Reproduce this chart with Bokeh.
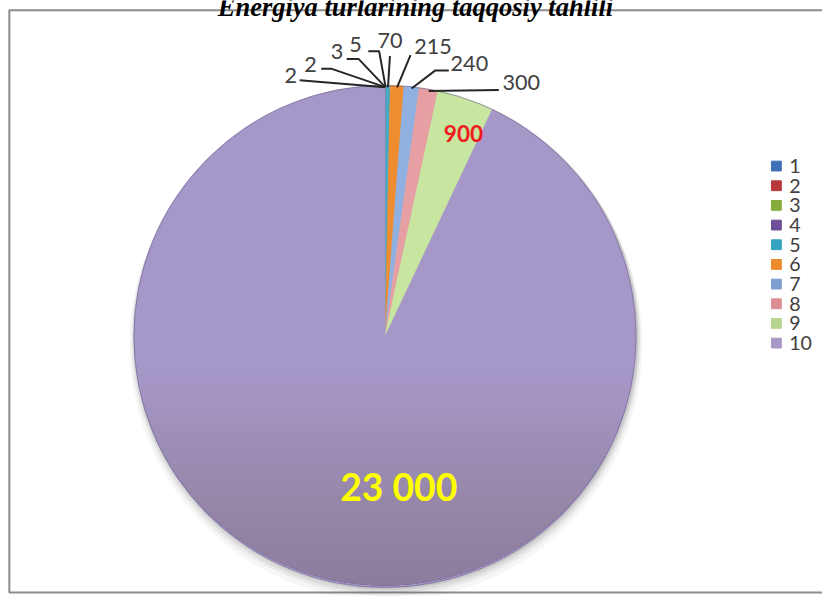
import numpy as np
from bokeh.plotting import figure
from bokeh.models import Range1d, ColumnDataSource
from bokeh.embed import file_html
from bokeh.resources import INLINE
from bokeh.core.properties import value

# ---------------- data ----------------
categories = ["1", "2", "3", "4", "5", "6", "7", "8", "9", "10"]
values = [2, 2, 3, 5, 70, 215, 240, 300, 900, 23000]
value_labels = ["2", "2", "3", "5", "70", "215", "240", "300", "900", "23 000"]
title_text = "Energiya turlarining taqqosiy tahlili"

# ---------------- styles / layout ----------------
colors = ["#4a7ebb", "#be4b48", "#98b954", "#7d60a0", "#46aac5",
          "#f08c30", "#8fb0e0", "#e6a0a4", "#c8e6a0", "#a697c9"]
legend_colors = ["#3f70b5", "#b8393a", "#86ad3c", "#6e4e98", "#35a2bf",
                 "#ec8a2c", "#7f9fd2", "#dc8f92", "#b7d58e", "#a898c6"]

RW, RH = 838, 612                  # design space (reference pixels)
W, H = 822, 596                    # figure size on page
S = W / RW
cx, cy, R = 392, 345, 256          # pie centre / radius in design px


def fy(y):
    return RH - y


def fs(px):
    return f"{px * S:.1f}px"


p = figure(width=W, height=H, x_range=Range1d(0, RW), y_range=Range1d(0, RH),
           output_backend="svg", toolbar_location=None, min_border=0)
p.axis.visible = False
p.grid.visible = False
p.outline_line_color = None
p.background_fill_color = "white"
p.border_fill_color = "white"

# chart frame
p.quad(left=9, right=RW + 5, top=fy(10), bottom=fy(608), fill_color=None,
       line_color="#8c8c8c", line_width=2)

# shadow under the pie
for k, a in [(9, 0.05), (6, 0.07), (4, 0.10), (2, 0.14)]:
    p.circle(x=cx + 1, y=fy(cy + k - 1), radius=R + k * 0.6,
             fill_color="#555555", fill_alpha=a, line_color=None)

# wedges
vals = np.array(values, dtype=float)
total = vals.sum()
cum = np.concatenate([[0], np.cumsum(vals)])
start = np.pi / 2 - cum[:-1] / total * 2 * np.pi
end = np.pi / 2 - cum[1:] / total * 2 * np.pi
src = ColumnDataSource(dict(start=start, end=end, color=colors, cat=categories))
p.wedge(x=cx, y=fy(cy), radius=R, start_angle="start", end_angle="end",
        direction="clock", fill_color="color", line_color="color", line_width=0.5,
        source=src)

# darker lower shading on big slice (simulated gradient)
for frac in np.linspace(0.15, 0.97, 26):
    th = np.linspace(-np.pi / 2 - np.arccos(frac), -np.pi / 2 + np.arccos(frac), 80)
    xs = list(cx + R * np.cos(th))
    ys = list(fy(cy) + R * np.sin(th))
    p.patch(xs, ys, fill_color="#3d2f5a", fill_alpha=0.013, line_color=None)

# thin outline
p.circle(x=cx, y=fy(cy), radius=R, fill_color=None,
         line_color="#6f6290", line_alpha=0.6, line_width=1)

# ---------------- outside labels with leader lines ----------------
mid = np.pi / 2 - (cum[:-1] + vals / 2) / total * 2 * np.pi
outside_idx = [0, 1, 2, 3, 4, 5, 6, 7]
lab_x = [296, 316, 343, 362, 397, 441, 478, 531]
lab_y = [77, 66, 52, 45, 41, 47, 65, 84]
line_x0 = [305, 327, 353, 375, 397, 418, 457, 508]
line_y0 = [82, 70, 60, 52, 57, 56, 72, 92]
elbow = [0, 10, 12, 11, 0, 0, -14, 0]

xs_l, ys_l = [], []
for j, i in enumerate(outside_idx):
    ex = cx + R * np.cos(mid[i])
    ey = fy(cy) + R * np.sin(mid[i])
    pts_x = [line_x0[j]]
    pts_y = [fy(line_y0[j])]
    if elbow[j] != 0:
        pts_x.append(line_x0[j] + elbow[j])
        pts_y.append(fy(line_y0[j]))
    pts_x.append(ex)
    pts_y.append(ey)
    xs_l.append(pts_x)
    ys_l.append(pts_y)
p.multi_line(xs_l, ys_l, line_color="#262626", line_width=2)

p.text(x=lab_x, y=[fy(v) for v in lab_y],
       text=[value_labels[i] for i in outside_idx],
       text_font=value("Lato"), text_font_size=fs(22), text_color="#404040",
       text_align="center", text_baseline="middle")

# inside labels
p.text(x=[472], y=[fy(137)], text=[value_labels[8]], text_font=value("Lato"),
       text_font_size=fs(23), text_font_style="bold", text_color="#ee1c1c",
       text_align="center", text_baseline="middle")
p.text(x=[406], y=[fy(499)], text=[value_labels[9]], text_font=value("Lato"),
       text_font_size=fs(38), text_font_style="bold", text_color="#ffff00",
       text_align="center", text_baseline="middle")

# ---------------- legend ----------------
leg_y = [170 + 20.2 * k for k in range(len(categories))]
p.scatter(x=[791] * len(categories), y=[fy(v) for v in leg_y], marker="square", size=10 * S,
          fill_color=legend_colors, line_color=legend_colors)
p.text(x=[804] * len(categories), y=[fy(v) for v in leg_y], text=categories,
       text_font=value("Lato"), text_font_size=fs(20), text_color="#404040",
       text_align="left", text_baseline="middle")

# ---------------- title (clipped at top like the reference) ----------------
p.text(x=[423], y=[fy(7)], text=[title_text], text_font=value("Liberation Serif"),
       text_font_size=fs(27), text_font_style="bold italic", text_color="black",
       text_align="center", text_baseline="alphabetic")

open("out.html", "w").write(file_html(p, INLINE))
